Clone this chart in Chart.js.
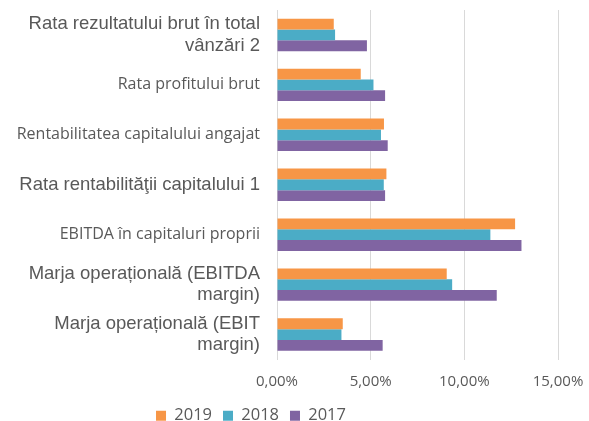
<!DOCTYPE html>
<html>
<head>
<meta charset="utf-8">
<script src="https://cdn.jsdelivr.net/npm/chart.js@4"></script>
<style>
  html, body { margin: 0; padding: 0; background: #fff; }
  #wrap { width: 589px; height: 421px; }
</style>
</head>
<body>
<div id="wrap"><canvas id="indicatoriChart"></canvas></div>
<script>
// Indicatori (procente)
const categorii = [
    ['Rata rezultatului brut în total', 'vânzări 2'],
    'Rata profitului brut',
    'Rentabilitatea capitalului angajat',
    'Rata rentabilităţii capitalului 1',
    'EBITDA în capitaluri proprii',
    ['Marja operațională (EBITDA', 'margin)'],
    ['Marja operațională (EBIT', 'margin)']
];
const ani = ['2019', '2018', '2017'];
const valori2019 = [3.03, 4.47, 5.71, 5.84, 12.71, 9.06, 3.51];
const valori2018 = [3.10, 5.15, 5.55, 5.70, 11.39, 9.35, 3.44];
const valori2017 = [4.80, 5.77, 5.91, 5.77, 13.05, 11.73, 5.64];
const tickuriX = [0, 5, 10, 15];

// etichetele mari vs. mici, ca in original
const etichetaMare = [true, false, false, true, false, true, true];

const gri = '#595959';

// muta legenda spre stanga si putin in jos (ca in Excel)
const legendaShift = {
    id: 'legendaShift',
    afterLayout(chart) {
        chart.legend.left -= 28;
        chart.legend.right -= 28;
        chart.legend.top += 6;
        chart.legend.bottom += 6;
    }
};

const ctx = document.getElementById('indicatoriChart').getContext('2d');
new Chart(ctx, {
    type: 'bar',
    data: {
        labels: categorii,
        datasets: [
            { label: ani[0], data: valori2019, backgroundColor: '#F79646' },
            { label: ani[1], data: valori2018, backgroundColor: '#4BACC6' },
            { label: ani[2], data: valori2017, backgroundColor: '#8064A2' }
        ]
    },
    options: {
        indexAxis: 'y',
        responsive: true,
        maintainAspectRatio: false,
        animation: false,
        categoryPercentage: 0.65,
        barPercentage: 1.0,
        layout: {
            padding: { top: 10, right: 31, bottom: -7, left: 0 }
        },
        plugins: {
            legend: {
                position: 'bottom',
                labels: {
                    boxWidth: 10,
                    boxHeight: 10,
                    padding: 11,
                    color: gri,
                    font: { family: 'Open Sans', size: 16.5 }
                }
            },
            tooltip: {
                callbacks: {
                    label: function(context) {
                        return `${context.dataset.label}: ${context.parsed.x.toFixed(2).replace('.', ',')}%`;
                    }
                }
            }
        },
        scales: {
            x: {
                min: 0,
                max: 15,
                afterBuildTicks: function(scale) {
                    scale.ticks = tickuriX.map(v => ({ value: v }));
                },
                afterFit: function(scale) {
                    scale.height = 31;
                    scale.paddingLeft = 0;
                    scale.paddingRight = 0;
                },
                grid: { color: '#D9D9D9', drawTicks: false },
                border: { display: false },
                ticks: {
                    padding: 13,
                    color: gri,
                    font: { family: 'Open Sans', size: 15 },
                    callback: function(v) {
                        return v.toFixed(2).replace('.', ',') + '%';
                    }
                }
            },
            y: {
                afterFit: function(scale) {
                    scale.width = 277;
                    scale.paddingTop = 0;
                    scale.paddingBottom = 0;
                },
                grid: { display: false, drawTicks: false },
                border: { display: false },
                ticks: {
                    padding: 17,
                    color: gri,
                    autoSkip: false,
                    font: function(c) {
                        if (etichetaMare[c.index]) {
                            return { family: 'Liberation Sans', size: 18.5, lineHeight: 1.15 };
                        }
                        return { family: 'Open Sans', size: 16 };
                    }
                }
            }
        }
    },
    plugins: [legendaShift]
});
</script>
</body>
</html>
